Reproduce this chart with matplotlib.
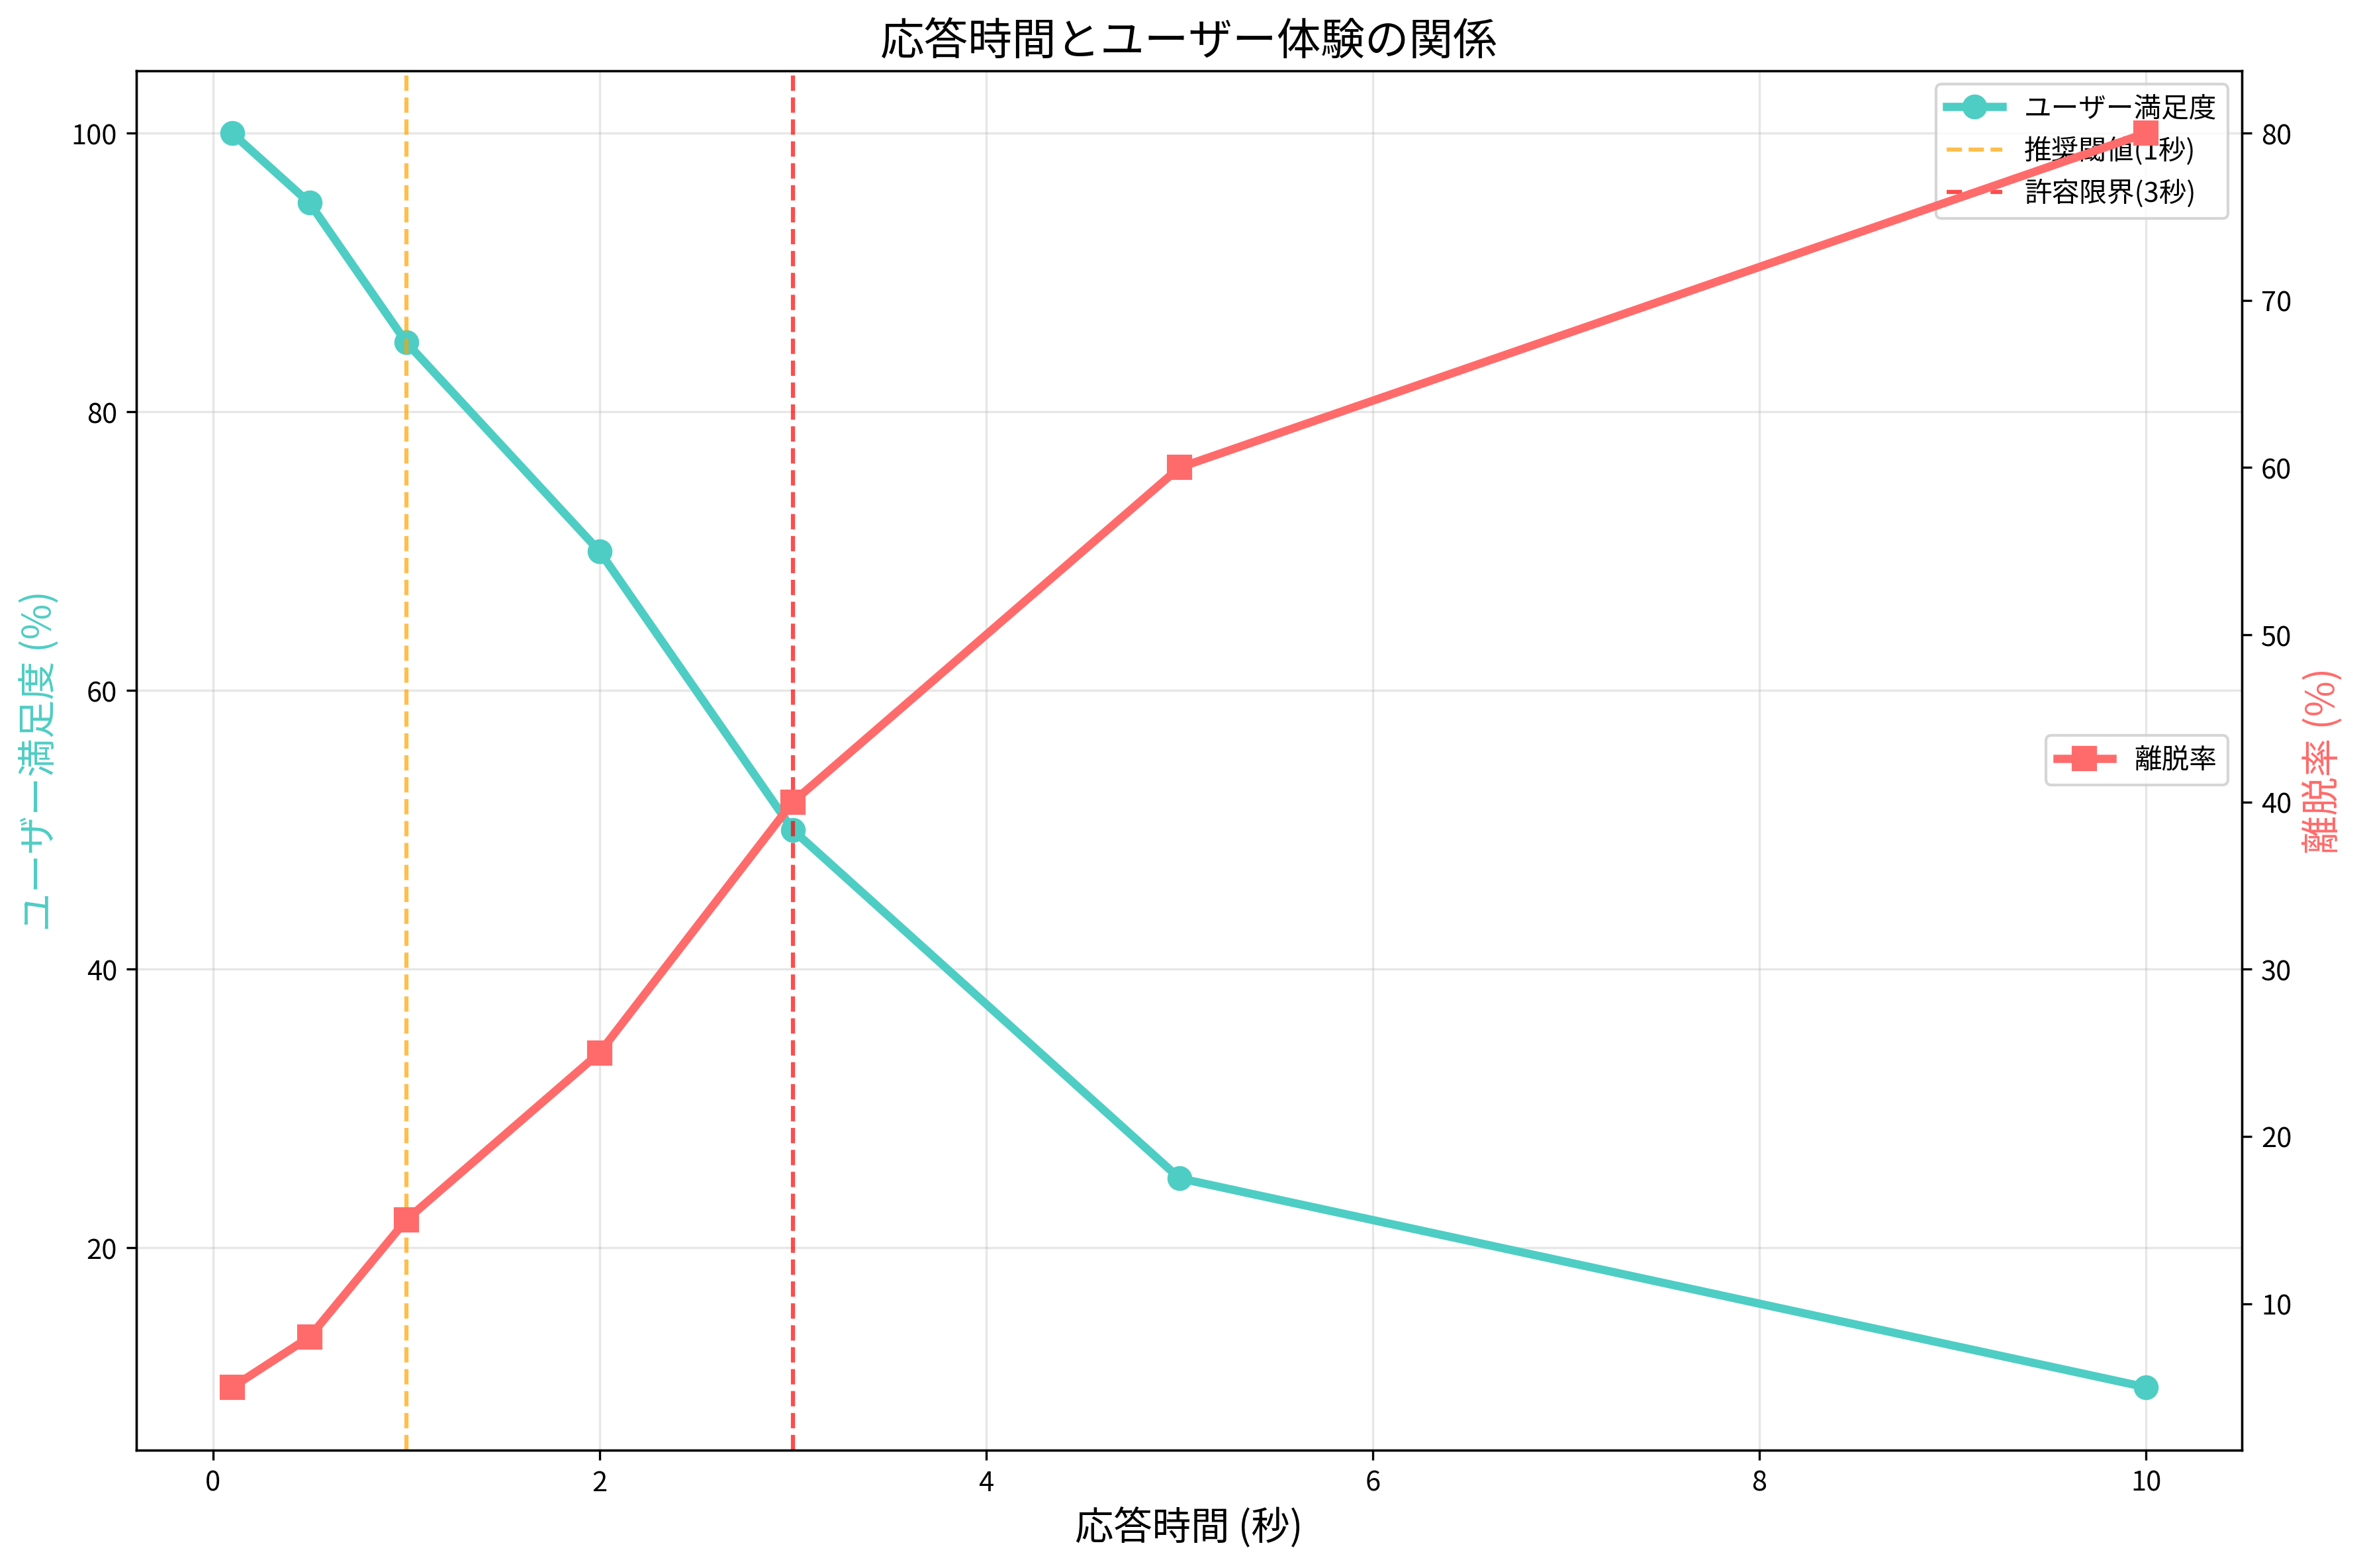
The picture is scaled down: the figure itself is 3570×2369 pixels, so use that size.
import matplotlib
matplotlib.use('Agg')
import matplotlib.pyplot as plt

plt.rcParams['font.family'] = ['Noto Sans CJK JP', 'DejaVu Sans']

response_time = [0.1, 0.5, 1, 2, 3, 5, 10]
satisfaction = [100, 95, 85, 70, 50, 25, 10]
bounce_rate = [5, 8, 15, 25, 40, 60, 80]

fig, ax1 = plt.subplots(figsize=(12, 8), dpi=300)
ax1.plot(response_time, satisfaction, 'o-', color='#4ECDC4', linewidth=3, markersize=8, label='ユーザー満足度')
ax1.axvline(1, color='orange', linestyle='--', alpha=0.7, label='推奨閾値(1秒)')
ax1.axvline(3, color='red', linestyle='--', alpha=0.7, label='許容限界(3秒)')
ax1.set_xlabel('応答時間 (秒)', fontsize=14)
ax1.set_ylabel('ユーザー満足度 (%)', fontsize=14, color='#4ECDC4')
ax1.grid(True, alpha=0.3)
ax1.legend(loc='upper right')

ax2 = ax1.twinx()
ax2.plot(response_time, bounce_rate, 's-', color='#FF6B6B', linewidth=3, markersize=8, label='離脱率')
ax2.set_ylabel('離脱率 (%)', fontsize=14, color='#FF6B6B')
ax2.legend(loc='center right')

ax1.set_title('応答時間とユーザー体験の関係', fontsize=16)
fig.tight_layout()
fig.savefig('out.png', dpi=300, bbox_inches='tight')
